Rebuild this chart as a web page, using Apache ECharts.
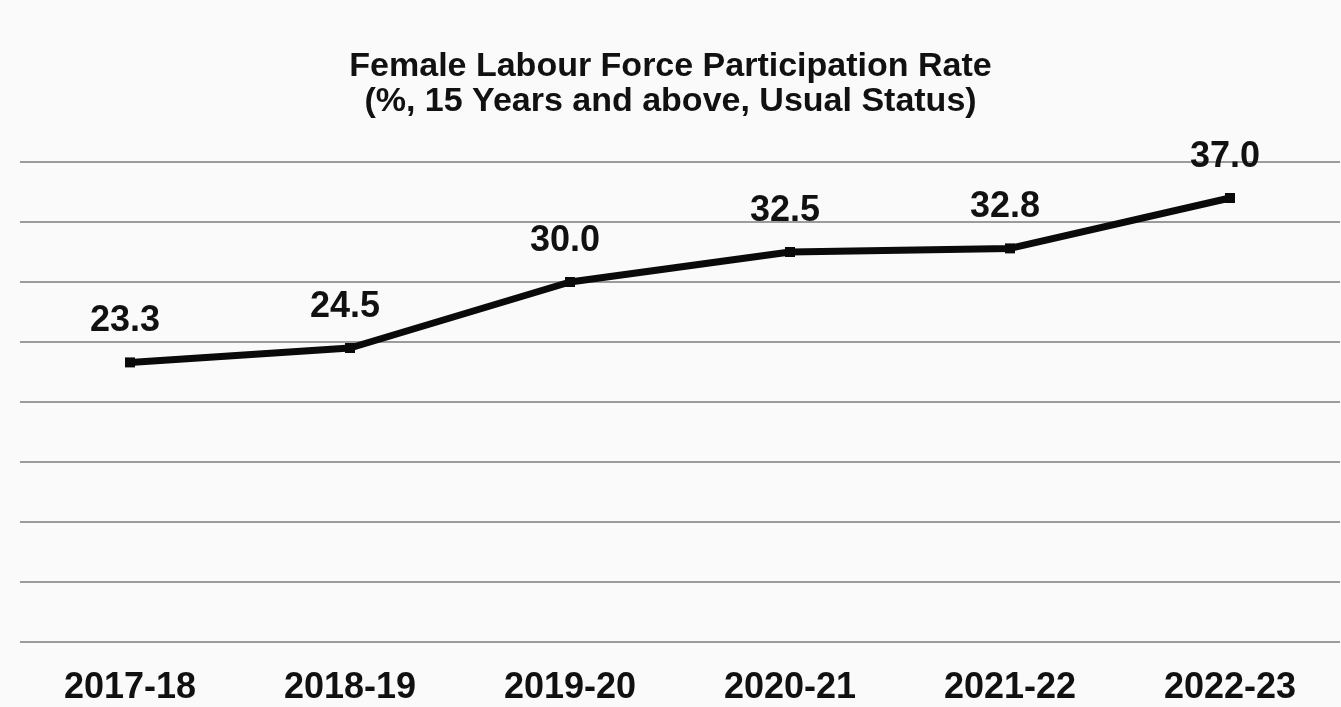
<!DOCTYPE html>
<html>
<head>
<meta charset="utf-8">
<script src="https://cdn.jsdelivr.net/npm/echarts@6/dist/echarts.min.js"></script>
<style>
html,body{margin:0;padding:0;background:#fafafa;}
#chart{width:1341px;height:707px;}
</style>
</head>
<body>
<div id="chart"></div>
<script>
const categories = ['2017-18','2018-19','2019-20','2020-21','2021-22','2022-23'];
const values = [23.3, 24.5, 30.0, 32.5, 32.8, 37.0];
const titleLines = ['Female Labour Force Participation Rate', '(%, 15 Years and above, Usual Status)'];

const FONT = '"Liberation Sans", Arial, sans-serif';
const chart = echarts.init(document.getElementById('chart'));
chart.setOption({
  backgroundColor: '#fafafa',
  animation: false,
  title: {
    text: titleLines.join('\n'),
    left: 'center',
    top: 44,
    textStyle: {fontFamily: FONT, fontWeight: 'bold', fontSize: 34, lineHeight: 35, color: '#111'}
  },
  grid: {left: 20, right: 1, top: 162, bottom: 65},
  xAxis: {
    type: 'category',
    data: categories,
    boundaryGap: true,
    axisLine: {show: false},
    axisTick: {show: false},
    axisLabel: {fontFamily: FONT, fontWeight: 'bold', fontSize: 36, color: '#111', margin: 28}
  },
  yAxis: {
    type: 'value',
    min: 0, max: 40, interval: 5,
    axisLabel: {show: false},
    axisLine: {show: false},
    axisTick: {show: false},
    splitLine: {lineStyle: {color: '#9c9c9c', width: 2}}
  },
  series: [{
    type: 'line',
    data: values,
    symbol: 'rect',
    symbolSize: 10,
    lineStyle: {color: '#0a0a0a', width: 7},
    itemStyle: {color: '#0a0a0a'},
    label: {
      show: true,
      position: 'top',
      distance: 18,
      offset: [-5, 0],
      formatter: p => p.value.toFixed(1),
      fontFamily: FONT, fontWeight: 'bold', fontSize: 36, color: '#111'
    }
  }]
});
</script>
</body>
</html>
